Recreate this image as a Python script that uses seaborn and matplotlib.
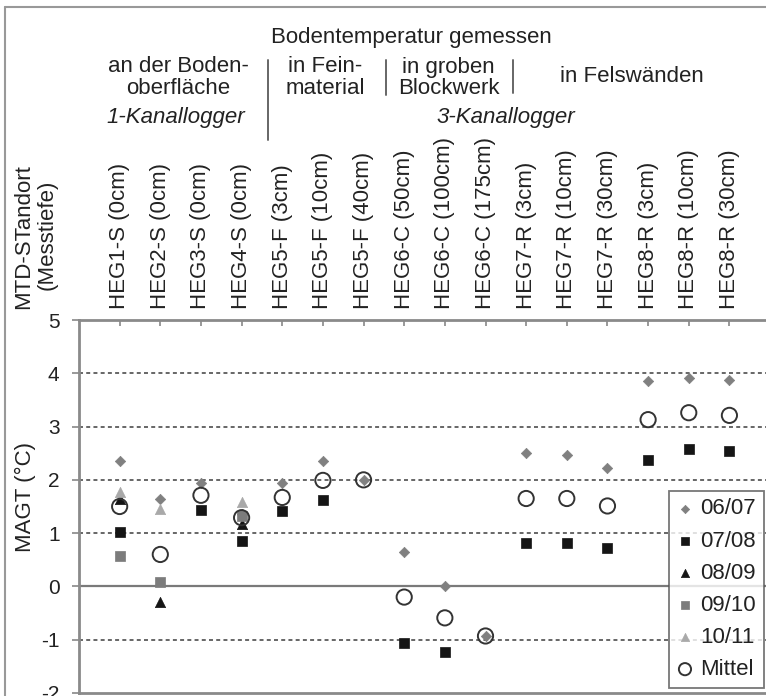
import numpy as np
import pandas as pd
import matplotlib
matplotlib.use("Agg")
import matplotlib.pyplot as plt
from matplotlib.lines import Line2D
import seaborn as sns

# ---------------- data ----------------
categories = ["HEG1-S (0cm)", "HEG2-S (0cm)", "HEG3-S (0cm)", "HEG4-S (0cm)",
              "HEG5-F (3cm)", "HEG5-F (10cm)", "HEG5-F (40cm)",
              "HEG6-C (50cm)", "HEG6-C (100cm)", "HEG6-C (175cm)",
              "HEG7-R (3cm)", "HEG7-R (10cm)", "HEG7-R (30cm)",
              "HEG8-R (3cm)", "HEG8-R (10cm)", "HEG8-R (30cm)"]
nan = np.nan
v0607 = [2.35, 1.65, 1.95, 1.35, 1.95, 2.35, 2.00, 0.64, 0.01, -0.93, 2.51, 2.46, 2.23, 3.85, 3.92, 3.87]
v0708 = [1.03, nan, 1.44, 0.85, 1.42, 1.63, nan, -1.06, -1.23, nan, 0.81, 0.81, 0.73, 2.37, 2.57, 2.55]
v0809 = [1.65, -0.29, nan, 1.18, nan, nan, nan, nan, nan, nan, nan, nan, nan, nan, nan, nan]
v0910 = [0.57, 0.08, nan, 1.33, nan, nan, nan, nan, nan, nan, nan, nan, nan, nan, nan, nan]
v1011 = [1.78, 1.46, nan, 1.58, nan, nan, nan, nan, nan, nan, nan, nan, nan, nan, nan, nan]
mittel = [1.50, 0.60, 1.71, 1.29, 1.67, 1.99, 2.00, -0.20, -0.59, -0.93, 1.65, 1.65, 1.51, 3.13, 3.26, 3.21]
series_names = ["06/07", "07/08", "08/09", "09/10", "10/11", "Mittel"]
y_ticks = [-2, -1, 0, 1, 2, 3, 4, 5]

# ---------------- figure ----------------
sns.set_theme(style="white")
plt.rcParams["font.family"] = ["Liberation Sans", "DejaVu Sans"]

W, H = 766, 696
fig = plt.figure(figsize=(W / 100, H / 100), dpi=100)
ax = fig.add_axes([79 / W, 3 / H, 687 / W, 373 / H])

pos = np.arange(len(categories))
df = pd.DataFrame({"pos": pos, "06/07": v0607, "07/08": v0708, "08/09": v0809,
                   "09/10": v0910, "10/11": v1011, "Mittel": mittel})

# grid lines
for g in [1, 2, 3, 4, -1]:
    ax.axhline(g, color="#5a5a5a", lw=1.3, ls=(0, (2.2, 1.8)), zorder=0)
ax.axhline(0, color="#7a7a7a", lw=1.6, zorder=0)

styles = {
    "06/07": dict(marker="D", s=28, color="#808080", edgecolor="#808080", linewidth=0.5),
    "07/08": dict(marker="s", s=46, color="#151515", edgecolor="#151515", linewidth=0.5),
    "08/09": dict(marker="^", s=55, color="#151515", edgecolor="#151515", linewidth=0.5),
    "09/10": dict(marker="s", s=46, color="#7c7c7c", edgecolor="#7c7c7c", linewidth=0.5),
    "10/11": dict(marker="^", s=55, color="#a9a9a9", edgecolor="#a9a9a9", linewidth=0.5),
}
for name in series_names[:-1]:
    sub = df[["pos", name]].dropna()
    sns.scatterplot(data=sub, x="pos", y=name, ax=ax, label=name, zorder=3, **styles[name])
sub = df[["pos", "Mittel"]].dropna()
sns.scatterplot(data=sub, x="pos", y="Mittel", ax=ax, label="Mittel", marker="o", s=120,
                facecolors="none", edgecolor="#333333", linewidth=1.4, zorder=4)

ax.set_xlim(-1.0, 15.9)
ax.set_ylim(-2, 5)
ax.set_yticks(y_ticks)
ax.set_yticklabels([str(t) for t in y_ticks])
ax.set_xticks(pos)
ax.set_xticklabels(categories, rotation=90)
ax.xaxis.tick_top()
ax.xaxis.set_label_position("top")
ax.set_xlabel("")
ax.set_ylabel("MAGT (°C)", fontsize=16, color="#222222")
ax.yaxis.set_label_coords(-0.063, 0.525)
ax.tick_params(axis="x", which="both", top=True, bottom=False, direction="in", length=4,
               width=1.2, color="#888888", labelsize=16, labelcolor="#222222", pad=8)
ax.tick_params(axis="y", left=True, direction="out", length=5, width=1.2, color="#888888",
               labelsize=15, labelcolor="#222222", pad=9)
for sp in ["left", "top", "bottom"]:
    ax.spines[sp].set_color("#8a8a8a")
    ax.spines[sp].set_linewidth(2)
ax.spines["right"].set_visible(False)

leg = ax.legend(loc="lower right", bbox_to_anchor=(0.997, 0.014), frameon=True, fancybox=False,
                fontsize=16, handlelength=0.7, handletextpad=0.35, labelspacing=0.5,
                borderpad=0.35, borderaxespad=0, markerscale=0.8)
leg.get_frame().set_edgecolor("#555555")
leg.get_frame().set_linewidth(1.3)
for t in leg.get_texts():
    t.set_color("#222222")


def ftext(x, y, s, **kw):
    fig.text(x / W, 1 - y / H, s, ha="center", va="center", color="#222222", **kw)


hs = 16
ftext(411, 37, "Bodentemperatur gemessen", fontsize=hs)
ftext(178, 67, "an der Boden-", fontsize=hs)
ftext(178, 89, "oberfläche", fontsize=hs)
ftext(176, 118, "1-Kanallogger", fontsize=hs, style="italic")
ftext(325, 67, "in Fein-", fontsize=hs)
ftext(325, 89, "material", fontsize=hs)
ftext(448, 67, "in groben", fontsize=hs)
ftext(449, 89, "Blockwerk", fontsize=hs)
ftext(632, 77, "in Felswänden", fontsize=hs)
ftext(506, 118, "3-Kanallogger", fontsize=hs, style="italic")
ftext(24, 237, "MTD-STandort", fontsize=16, rotation=90)
ftext(47, 235, "(Messtiefe)", fontsize=16, rotation=90)

for xs, y0, y1 in [(268, 60, 140), (386, 60, 95), (513, 60, 93)]:
    fig.add_artist(Line2D([xs / W, xs / W], [1 - y0 / H, 1 - y1 / H], color="#666666", lw=1.4))

# outer frame
fig.add_artist(Line2D([5 / W, 1], [1 - 7 / H, 1 - 7 / H], color="#999999", lw=1.5))
fig.add_artist(Line2D([5 / W, 5 / W], [0, 1 - 7 / H], color="#999999", lw=1.5))

fig.savefig("out.png", dpi=100)
